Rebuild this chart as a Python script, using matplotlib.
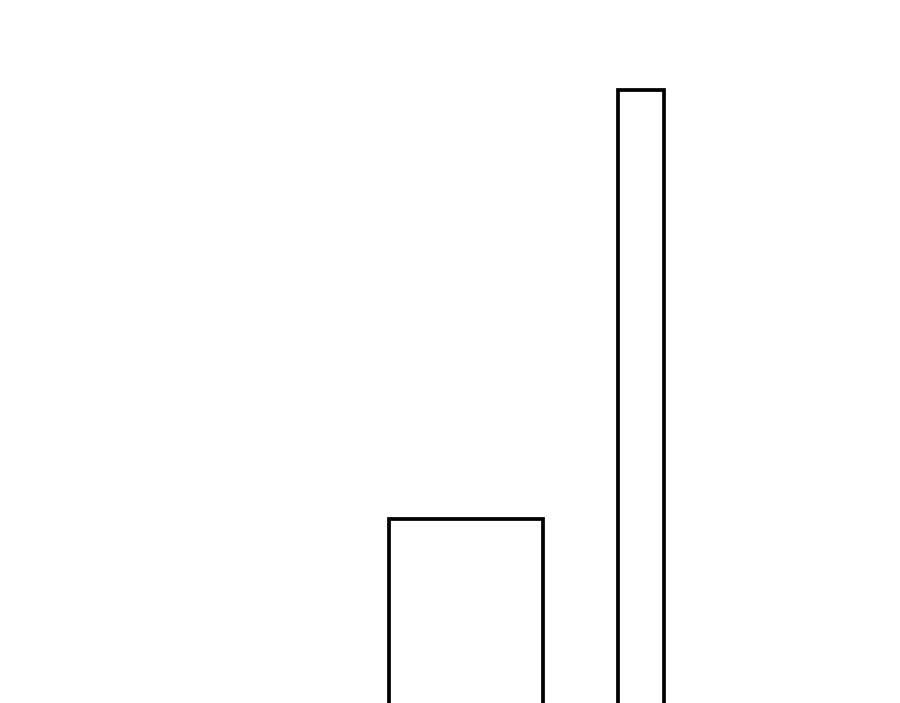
import matplotlib
matplotlib.use('Agg')
import matplotlib.pyplot as plt

# 数据
categories = ['A', 'B']
values = [184, 613]

# 布局（像素坐标）
centers = [466, 641]
widths = [154, 46]

fig = plt.figure(figsize=(9, 7.03), dpi=100)
ax = fig.add_axes([0, 0, 1, 1])
ax.set_xlim(0, 900)
ax.set_ylim(0, 703)

# 柱子底部画在可见区域之外
ax.bar(centers, [v + 20 for v in values], width=widths, bottom=-20,
       facecolor='white', edgecolor='black', linewidth=2.7)

ax.axis('off')
fig.savefig('out.png', dpi=100, facecolor='white')
